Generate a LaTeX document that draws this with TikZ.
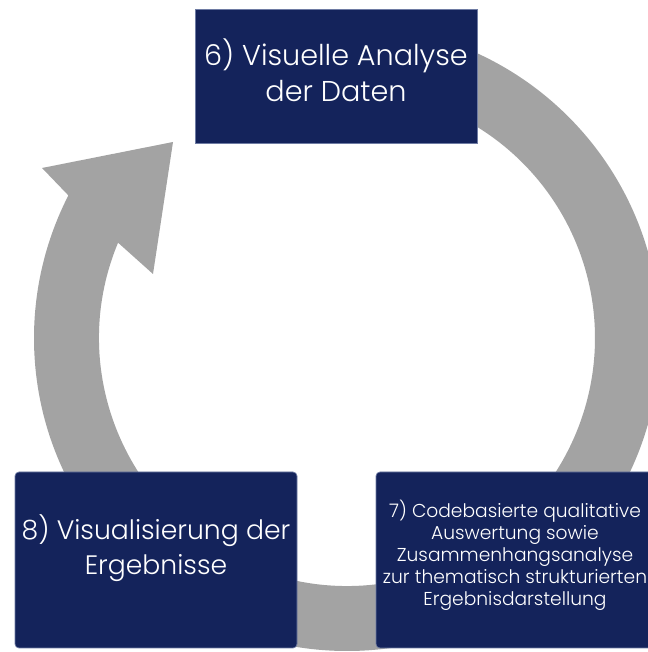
\documentclass[tikz,border=0pt]{standalone}
\usepackage{fontspec}
\setmainfont{Poppins}[UprightFont=* Light]
\definecolor{navy}{HTML}{14235B}
\definecolor{ringgray}{HTML}{A3A3A3}
\definecolor{edgeblue}{HTML}{6E7BA3}
\begin{document}
\begin{tikzpicture}[x=0.75pt,y=0.75pt,
  box/.style={fill=navy,draw=edgeblue,line width=0.5pt,minimum width=282*0.75pt,inner sep=0pt},
  lbl/.style={text=white,align=center,inner sep=0pt}]
\useasboundingbox (0,0) rectangle (648,652);
% circular arrow (y up: Y = 652 - py), centre (347,314)
\fill[ringgray] ([shift={(347,314)}]90:313) arc[start angle=90,end angle=-207.1,radius=313]
  -- (42,484) -- (173,510) -- (153,378) -- ([shift={(347,314)}]157.4:248)
  arc[start angle=-202.6,end angle=90,radius=248] -- cycle;
% boxes
\node[box,minimum height=134*0.75pt] (b6) at (336,576) {};
\node[box,rounded corners=3pt,minimum height=176*0.75pt] (b8) at (156,92) {};
\node[box,rounded corners=3pt,minimum height=176*0.75pt] (b7) at (517,92) {};
% texts
\node[lbl,font=\fontsize{21.5pt}{27pt}\selectfont] (t6) at (336,582) {6) Visuelle Analyse\\der Daten};
\node[lbl,font=\fontsize{20pt}{26pt}\selectfont] (t8) at (156,104) {8) Visualisierung der\\Ergebnisse};
\node[lbl,font=\fontsize{14pt}{16.5pt}\selectfont] (t7) at (515,97) {7) Codebasierte qualitative\\Auswertung sowie\\Zusammenhangsanalyse\\zur thematisch strukturierten\\Ergebnisdarstellung};
\end{tikzpicture}
\end{document}
